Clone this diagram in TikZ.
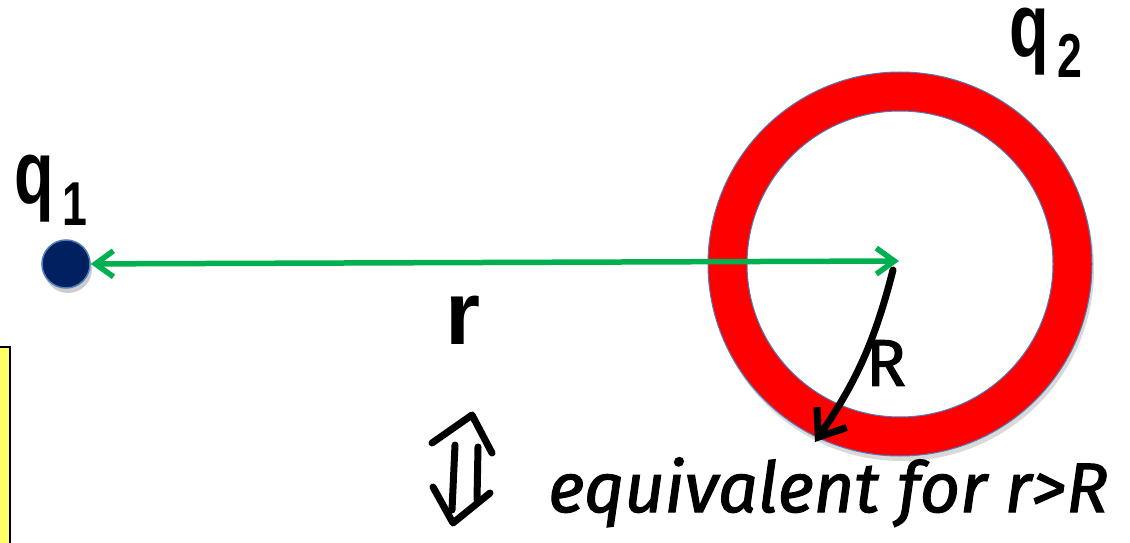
\documentclass[tikz,border=0pt]{standalone}
\usepackage{fontspec}
\setmainfont{Liberation Sans}
\newfontfamily\handfont{Fira Sans}[FakeBold=1.6]
\usetikzlibrary{arrows.meta, positioning, calc}

\definecolor{dotnavy}{HTML}{002060}
\definecolor{edgeblue}{HTML}{4A7EBB}
\definecolor{fieldgreen}{HTML}{00B050}
\definecolor{notebox}{HTML}{FFFF66}

\newcommand{\chargelbl}[1]{\scalebox{0.72}[1]{\fontsize{90}{90}\selectfont\bfseries q\kern12pt\raisebox{-21pt}{\fontsize{62}{62}\selectfont #1}}}

\begin{document}
\begin{tikzpicture}[
      x=1pt, y=1pt,
      lbl/.style={inner sep=0pt, anchor=base west},
      charge/.style={circle, draw=edgeblue, line width=1.5pt, fill=dotnavy, minimum size=48pt, inner sep=0pt},
      shell/.style={fill=red, draw=edgeblue, line width=1pt, even odd rule},
      sep/.style={{Straight Barb[length=18pt, width=26pt]}-{Straight Barb[length=18pt, width=26pt]}, fieldgreen, line width=5.5pt},
      radius arrow/.style={-{Straight Barb[length=24pt, width=36pt]}, line width=7pt, line cap=round},
      pen/.style={line width=7pt, line cap=round, line join=round},
      hand/.style={inner sep=0pt, font=\handfont}
    ]
    \useasboundingbox (0,0) rectangle (1130,542);

    \draw[fill=notebox, line width=2.5pt] (-10,-10) rectangle (10,195);

    \coordinate (c2) at (900,278);
    \fill[black, opacity=0.15] ($(c2)+(2,-5)$) circle (192);
    \fill[white] (c2) circle (153);
    \path[shell] (c2) circle (192) (c2) circle (153);

    \fill[black, opacity=0.2] (68,273) circle (24);
    \node[charge] (q1) at (66,278) {};
    \node[lbl] (q1lbl) at (14.5,338) {\chargelbl{1}};
    \node[lbl] (q2lbl) at (1009.5,485) {\chargelbl{2}};

    \coordinate (gend) at (899,281);
    \draw[sep] (q1) -- (gend);
    \node[lbl] (rlbl) at (445,198) {\fontsize{90}{90}\selectfont\bfseries r};

    \coordinate (rtail) at (893,272);
    \coordinate (rtip) at (815,100);
    \draw[radius arrow] (rtail) to[bend left=10] (rtip);
    \node[hand, font=\handfont\fontsize{66}{66}\selectfont] (Rlbl) at (886,179) {R};

    \draw[pen] (432,99) -- (472,127) -- (492,89);
    \draw[pen] (455,97) -- (452,32);
    \draw[pen] (478,95) -- (477,42);
    \draw[pen] (433,55) -- (453,19) -- (490,49);
    \node[hand, anchor=base west, font=\handfont\itshape\fontsize{70}{70}\selectfont] (note) at (548,30) {equivalent for r>R};
  \end{tikzpicture}
\end{document}
